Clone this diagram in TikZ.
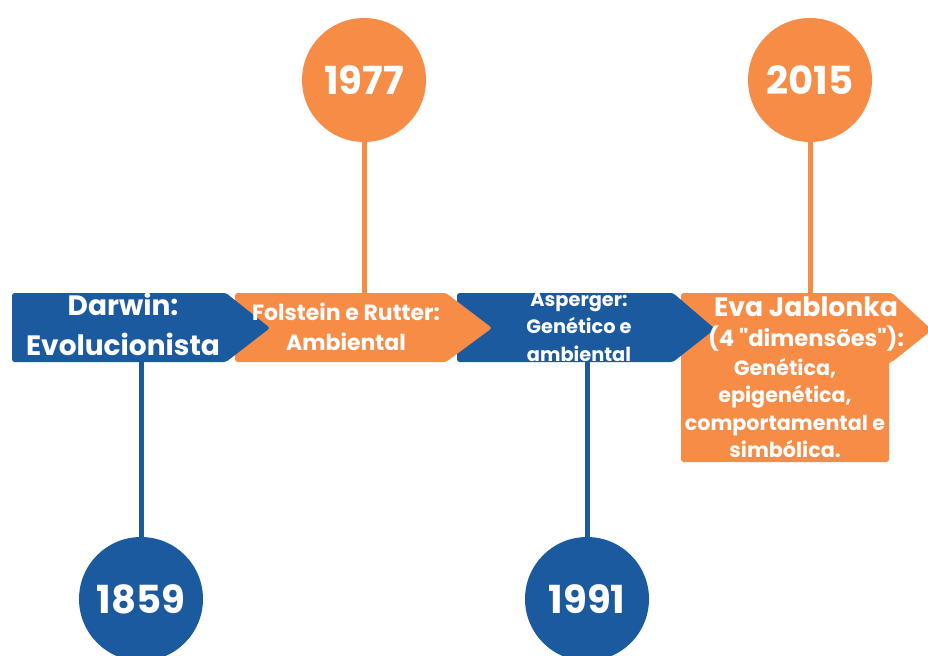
\documentclass[tikz,border=0pt]{standalone}
\usepackage{fontspec}
\setmainfont{Poppins}
\usetikzlibrary{positioning}

\definecolor{tlblue}{RGB}{28,90,160}
\definecolor{tlorange}{RGB}{247,140,70}

\begin{document}
\begin{tikzpicture}[x=0.75pt, y=-0.75pt,
    year/.style={circle, minimum size=93pt, inner sep=0pt, text=white,
      font=\fontsize{29}{30}\selectfont\bfseries},
    label/.style={text=white, align=center, inner sep=0pt},
    stem/.style={line width=3.75pt}]
  \useasboundingbox (0,0) rectangle (928,656);
  % blocks, right to left so each tip lies on the next block
  \fill[tlorange, rounded corners=2pt] (681,293) -- (892,293) -- (932,330) -- (892,362)
      -- (889,362) -- (889,462) -- (681,462) -- cycle;
  \fill[tlblue, rounded corners=2pt] (457,293) -- (673,293) -- (715,329) -- (673,362) -- (457,362) -- cycle;
  \fill[tlorange, rounded corners=2pt] (235,293) -- (446,293) -- (492,328) -- (446,362) -- (235,362) -- cycle;
  \fill[tlblue, rounded corners=2pt] (12,293) -- (226,293) -- (270,328) -- (226,362) -- (12,362) -- cycle;
  \coordinate (folstein top) at (364,293);
  \coordinate (eva top) at (810,293);
  \coordinate (darwin bottom) at (141,362);
  \coordinate (asperger bottom) at (587,362);
  % texts
  \node[label, font=\fontsize{21}{30}\selectfont\bfseries] (darwin) at (123,324)
      {Darwin:\\Evolucionista};
  \node[label, font=\fontsize{16.5}{22.5}\selectfont\bfseries] (folstein) at (346,327)
      {Folstein e Rutter:\\Ambiental};
  \node[label, font=\fontsize{14.5}{20.5}\selectfont\bfseries] (asperger) at (579,327)
      {Asperger:\\Genético e\\ambiental};
  \node[label, font=\fontsize{20}{25}\selectfont\bfseries] (eva) at (806,307)
      {Eva Jablonka};
  \node[label, font=\fontsize{17}{25}\selectfont\bfseries] (eva years) at (806,339)
      {(4 \textquotedbl dimensões\textquotedbl):};
  \node[label, font=\fontsize{15.5}{20.5}\selectfont\bfseries] (eva dims) at (785,408)
      {Genética,\\epigenética,\\comportamental e\\simbólica.};
  % years
  \node[year, fill=tlorange] (y1977) at (364,80) {1977};
  \node[year, fill=tlorange] (y2015) at (810,80) {2015};
  \node[year, fill=tlblue] (y1859) at (141,599) {1859};
  \node[year, fill=tlblue] (y1991) at (587,599) {1991};
  \draw[stem, tlorange] (y1977) -- (folstein top);
  \draw[stem, tlorange] (y2015) -- (eva top);
  \draw[stem, tlblue] (y1859) -- (darwin bottom);
  \draw[stem, tlblue] (y1991) -- (asperger bottom);
\end{tikzpicture}
\end{document}
